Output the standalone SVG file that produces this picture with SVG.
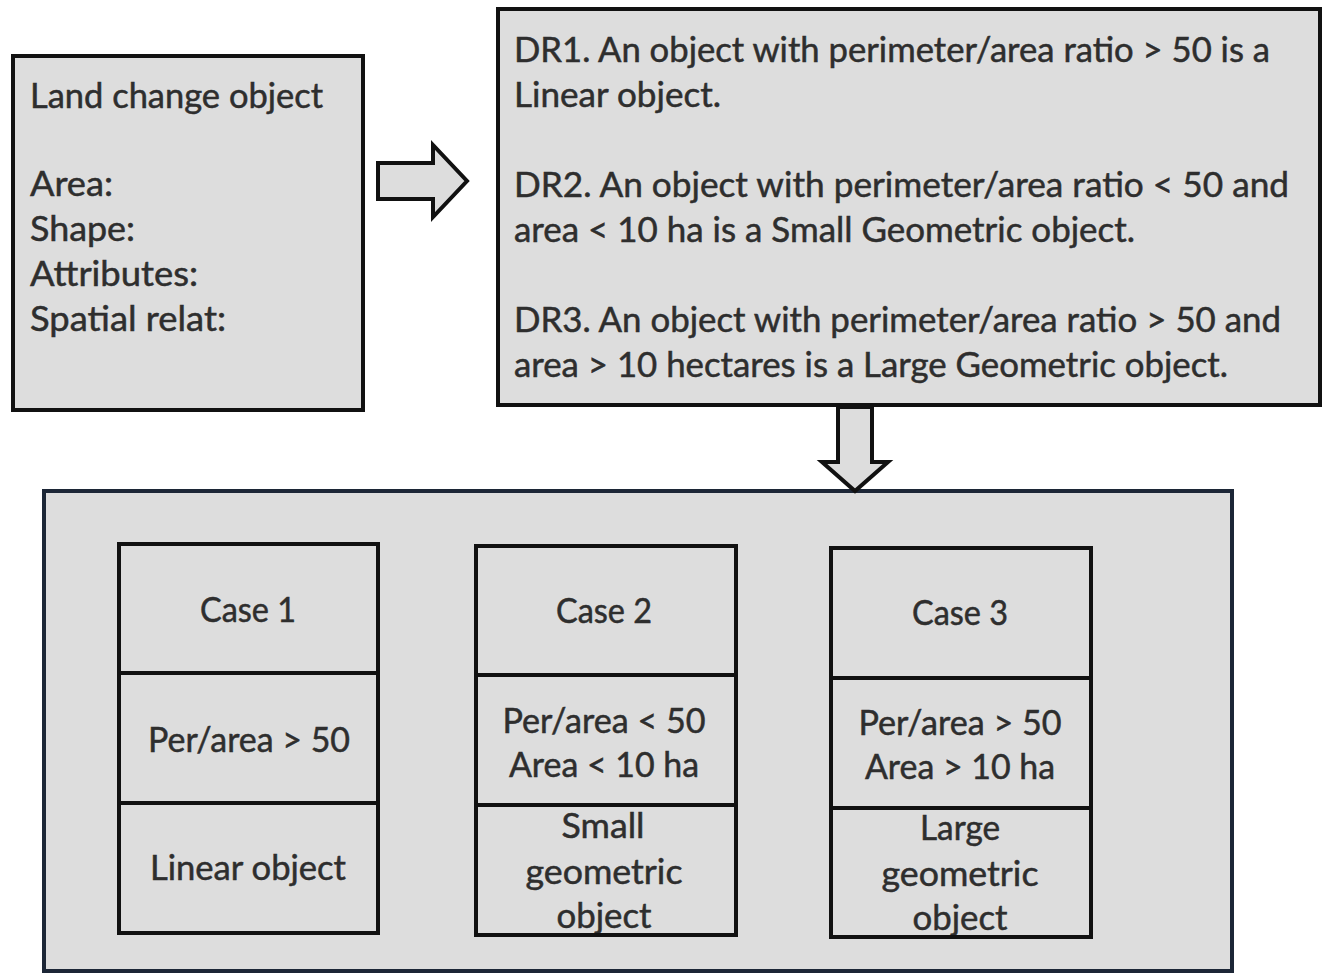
<svg xmlns="http://www.w3.org/2000/svg" width="1324" height="974" viewBox="0 0 1324 974">
<style>
.box{fill:#dddddd;stroke:#111111;stroke-width:4}
.cont{fill:#dddddd;stroke:#1c2636;stroke-width:4}
.div{stroke:#111111;stroke-width:4}
.arr{fill:#dddddd;stroke:#111111;stroke-width:4;stroke-linejoin:miter}
text{font-family:Lato,"Liberation Sans",sans-serif;font-size:34px;fill:#2e2e2e;stroke:#2e2e2e;stroke-width:0.5}
.c{text-anchor:middle}
</style>
<rect width="1324" height="974" fill="#ffffff"/>
<g id="land-change-object">
<rect class="box" x="13" y="56" width="350" height="354"/>
<text x="30" y="108" textLength="293" lengthAdjust="spacingAndGlyphs">Land change object</text>
<text x="30" y="196" textLength="83" lengthAdjust="spacingAndGlyphs">Area:</text>
<text x="30" y="241" textLength="105" lengthAdjust="spacingAndGlyphs">Shape:</text>
<text x="30" y="286" textLength="168" lengthAdjust="spacingAndGlyphs">Attributes:</text>
<text x="30" y="331" textLength="196" lengthAdjust="spacingAndGlyphs">Spatial relat:</text>
</g>
<g id="decision-rules">
<rect class="box" x="498" y="9" width="822" height="396"/>
<text x="514" y="62" textLength="756" lengthAdjust="spacingAndGlyphs">DR1. An object with perimeter/area ratio &gt; 50 is a</text>
<text x="514" y="107" textLength="207" lengthAdjust="spacingAndGlyphs">Linear object.</text>
<text x="514" y="197" textLength="775" lengthAdjust="spacingAndGlyphs">DR2. An object with perimeter/area ratio &lt;  50 and</text>
<text x="514" y="242" textLength="621" lengthAdjust="spacingAndGlyphs">area &lt; 10 ha is a Small Geometric object.</text>
<text x="514" y="332" textLength="767" lengthAdjust="spacingAndGlyphs">DR3. An object with perimeter/area ratio &gt; 50 and</text>
<text x="514" y="377" textLength="714" lengthAdjust="spacingAndGlyphs">area &gt; 10 hectares is a Large Geometric object.</text>
</g>
<g id="cases">
<rect class="cont" x="44" y="491" width="1188" height="480"/>
<g id="case1">
<rect class="box" x="119" y="544" width="259" height="389"/>
<line class="div" x1="119" y1="673" x2="378" y2="673"/>
<line class="div" x1="119" y1="803" x2="378" y2="803"/>
<text class="c" x="248" y="622" textLength="96" lengthAdjust="spacingAndGlyphs">Case 1</text>
<text class="c" x="249" y="752" textLength="202" lengthAdjust="spacingAndGlyphs">Per/area &gt; 50</text>
<text class="c" x="248" y="880" textLength="196" lengthAdjust="spacingAndGlyphs">Linear object</text>
</g>
<g id="case2">
<text class="c" x="604" y="623" textLength="96" lengthAdjust="spacingAndGlyphs">Case 2</text>
<text class="c" x="604" y="733" textLength="203" lengthAdjust="spacingAndGlyphs">Per/area &lt; 50</text>
<text class="c" x="604" y="777" textLength="190" lengthAdjust="spacingAndGlyphs">Area &lt; 10 ha</text>
<text class="c" x="603" y="838" textLength="83" lengthAdjust="spacingAndGlyphs">Small</text>
<text class="c" x="604" y="884" textLength="157" lengthAdjust="spacingAndGlyphs">geometric</text>
<text class="c" x="604" y="928" textLength="95" lengthAdjust="spacingAndGlyphs">object</text>
<rect class="box" x="476" y="546" width="260" height="389" style="fill:none"/>
<line class="div" x1="476" y1="675" x2="736" y2="675"/>
<line class="div" x1="476" y1="805" x2="736" y2="805"/>
</g>
<g id="case3">
<text class="c" x="960" y="625" textLength="96" lengthAdjust="spacingAndGlyphs">Case 3</text>
<text class="c" x="960" y="735" textLength="203" lengthAdjust="spacingAndGlyphs">Per/area &gt; 50</text>
<text class="c" x="960" y="779" textLength="190" lengthAdjust="spacingAndGlyphs">Area &gt; 10 ha</text>
<text class="c" x="960" y="840" textLength="80" lengthAdjust="spacingAndGlyphs">Large</text>
<text class="c" x="960" y="886" textLength="157" lengthAdjust="spacingAndGlyphs">geometric</text>
<text class="c" x="960" y="930" textLength="95" lengthAdjust="spacingAndGlyphs">object</text>
<rect class="box" x="831" y="548" width="260" height="389" style="fill:none"/>
<line class="div" x1="831" y1="678" x2="1091" y2="678"/>
<line class="div" x1="831" y1="808" x2="1091" y2="808"/>
</g>
</g>
<g id="connectors">
<path class="arr" d="M378,163 L433,163 L433,145 L467,181 L433,217 L433,199 L378,199 Z"/>
<path class="arr" d="M838,407 L872,407 L872,462 L888,462 L855,491 L822,462 L838,462 Z"/>
</g>
</svg>
